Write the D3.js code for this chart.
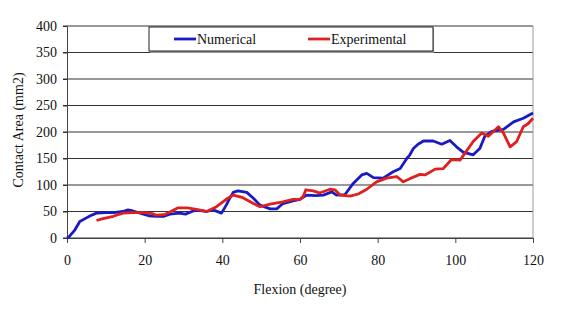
<!DOCTYPE html>
<html>
<head>
<meta charset="utf-8">
<script src="https://cdn.jsdelivr.net/npm/d3@7"></script>
<style>
  body { margin: 0; background: #fff; }
  svg text { font-family: "Liberation Serif", "Times New Roman", serif; fill: #111; }
</style>
</head>
<body>
<div id="chart"></div>
<script>
// Series (degree, mm2)
const numericalX = [0, 0.5, 2, 3.3, 5, 6, 7.6, 10, 12, 14.4, 15.7, 17, 18.8, 21, 23, 25, 26.5, 29, 30.5, 32.5, 34, 36, 37.6, 39.8, 41, 42, 42.8, 44, 46.3, 48, 49.7, 52.3, 54, 55.6, 58.2, 60, 61.7, 64, 66, 68.2, 69.4, 71.6, 73.7, 75.9, 77.2, 78.9, 81.4, 84, 85.8, 87.5, 88.3, 89.2, 90.4, 91.8, 94.3, 96.5, 98.6, 100.3, 102, 104.6, 106.3, 107.6, 109.4, 112.4, 115, 117.5, 120];
const numericalY = [0, 2, 15, 31, 38, 42, 47, 48, 48, 50, 53, 51, 47, 42, 41, 41, 45, 47, 45, 51, 52, 50, 53, 47, 62, 76, 86, 89, 86, 75, 62, 55, 55, 65, 70, 73, 81, 80, 81, 87, 81, 82, 103, 119, 122, 114, 113, 125, 131, 150, 157, 169, 177, 183, 183, 177, 184, 172, 162, 157, 169, 192, 201, 205, 219, 226, 236];

const experimentalX = [7.6, 9, 10.2, 11.9, 14.4, 17, 20, 22, 23, 25, 26.5, 28.6, 31, 32.5, 34, 36, 38.5, 41, 42.8, 45.3, 48, 49.7, 52.3, 55.6, 58.2, 60, 60.8, 61.5, 63.4, 65, 67.7, 69, 70.3, 72.9, 75, 77.2, 79.7, 82.3, 84.9, 86.6, 88.3, 90.9, 92.2, 94.8, 96.9, 99, 101.2, 102.5, 104.6, 106.8, 108.5, 111.1, 112.4, 114.1, 115.8, 117.5, 118.8, 120];
const experimentalY = [33, 36, 38, 41, 47, 48, 48, 46, 43, 44, 49, 57, 57, 55, 53, 50, 59, 73, 81, 76, 65, 59, 64, 68, 73, 73, 78, 91, 89, 85, 92, 91, 81, 79, 83, 92, 106, 113, 116, 106, 112, 120, 119, 130, 131, 148, 147, 160, 182, 198, 192, 210, 198, 172, 182, 210, 216, 226];

const xTicks = [0, 20, 40, 60, 80, 100, 120];
const yTicks = [0, 50, 100, 150, 200, 250, 300, 350, 400];
const seriesNames = ['Numerical', 'Experimental'];
const seriesColors = ['#1a1ac4', '#e0201e'];

const width = 576, height = 316;
const margin = { top: 26, right: 43, bottom: 78, left: 67 },
    plotW = width - margin.left - margin.right,
    plotH = height - margin.top - margin.bottom;

const svg = d3.select('#chart').append('svg')
    .attr('width', width)
    .attr('height', height);

const g = svg.append('g')
    .attr('transform', 'translate(' + margin.left + ',' + margin.top + ')');

const x = d3.scaleLinear().domain([0, 120]).range([0, plotW]);
const y = d3.scaleLinear().domain([0, 400]).range([plotH, 0]);

// gridlines
g.append('g')
  .selectAll('line')
  .data(yTicks)
  .enter().append('line')
    .attr('x1', -4)
    .attr('x2', plotW)
    .attr('y1', d => y(d))
    .attr('y2', d => y(d))
    .attr('stroke', '#333')
    .attr('stroke-width', 1);

// right plot border
g.append('line')
  .attr('x1', plotW).attr('x2', plotW)
  .attr('y1', 0).attr('y2', plotH)
  .attr('stroke', '#999');

// Y axis
const yAxis = g.append('g')
  .call(d3.axisLeft(y).tickValues(yTicks).tickSize(4).tickPadding(6));
yAxis.select('.domain').attr('stroke', '#444');
yAxis.selectAll('line').attr('stroke', '#333');
yAxis.selectAll('text').style('font-size', '14px').attr('fill', '#111');

// X axis
const xAxis = g.append('g')
  .attr('transform', 'translate(0,' + plotH + ')')
  .call(d3.axisBottom(x).tickValues(xTicks).tickSize(5).tickPadding(12));
xAxis.select('.domain').attr('stroke', '#444');
xAxis.selectAll('line').attr('stroke', '#444');
xAxis.selectAll('text').style('font-size', '14px').attr('fill', '#111');

// axis titles
svg.append('text')
  .attr('x', 300)
  .attr('y', 294)
  .attr('text-anchor', 'middle')
  .style('font-size', '14px')
  .text('Flexion (degree)');

svg.append('text')
  .attr('transform', 'translate(23,130) rotate(-90)')
  .attr('text-anchor', 'middle')
  .style('font-size', '14px')
  .text('Contact Area (mm2)');

// lines
const line = d3.line()
  .x(d => x(d[0]))
  .y(d => y(d[1]));

const numerical = numericalX.map((d, i) => [d, numericalY[i]]);
const experimental = experimentalX.map((d, i) => [d, experimentalY[i]]);

[numerical, experimental].forEach(function(series, i) {
  g.append('path')
    .datum(series)
    .attr('fill', 'none')
    .attr('stroke', seriesColors[i])
    .attr('stroke-width', 2.8)
    .attr('stroke-linejoin', 'round')
    .attr('d', line);
});

// legend
const legend = svg.append('g');
legend.append('rect')
  .attr('x', 150).attr('y', 28)
  .attr('width', 284).attr('height', 25)
  .attr('fill', '#999');
legend.append('rect')
  .attr('x', 149).attr('y', 27)
  .attr('width', 284).attr('height', 24)
  .attr('fill', '#fff')
  .attr('stroke', '#222')
  .attr('stroke-width', 1);

const legendX = [174, 308];
seriesNames.forEach(function(name, i) {
  legend.append('line')
    .attr('x1', legendX[i]).attr('x2', legendX[i] + 22)
    .attr('y1', 39).attr('y2', 39)
    .attr('stroke', seriesColors[i])
    .attr('stroke-width', 2.8);
  legend.append('text')
    .attr('x', legendX[i] + 23)
    .attr('y', 44)
    .style('font-size', '14px')
    .text(name);
});
</script>
</body>
</html>
